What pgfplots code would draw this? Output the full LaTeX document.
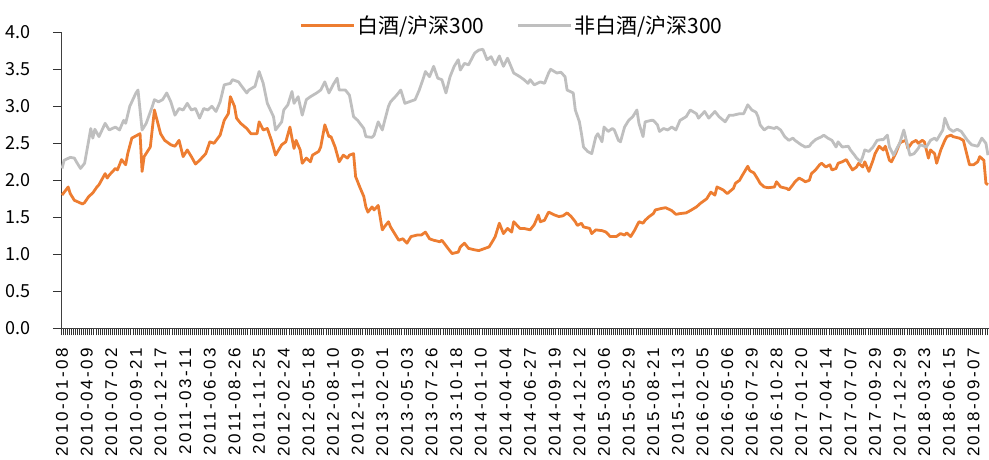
\documentclass[border=0pt]{standalone}
\usepackage{fontspec}
\setmainfont{Liberation Sans}
\newfontfamily\cjk{Noto Sans CJK SC}
\newfontfamily\xlab{Liberation Sans}[LetterSpace=14]
\usepackage{pgfplots}
\pgfplotsset{compat=1.18}
\definecolor{baijiu}{HTML}{ED7D31}
\definecolor{feibj}{HTML}{BFBFBF}
\begin{document}
\begin{tikzpicture}
\begin{axis}[
  anchor=south west,
  scale only axis, width=928bp, height=296bp,
  xmin=-0.5, xmax=451.5, ymin=0, ymax=4,
  axis x line*=bottom, axis y line*=left,
  axis line style={-, black!75, line width=0.8bp},
  ytick={0,0.5,...,4},
  yticklabel style={font=\cjk\fontsize{18bp}{20bp}\selectfont, anchor=east, inner sep=0pt},
  yticklabel shift=22bp,
  /pgf/number format/.cd, fixed, fixed zerofill, precision=1, assume math mode=true,
  /pgfplots/.cd,
  xtick={0,12,...,444},
  xticklabels={2010-01-08,2010-04-09,2010-07-02,2010-09-21,2010-12-17,2011-03-11,2011-06-03,2011-08-26,2011-11-25,2012-02-24,2012-05-18,2012-08-10,2012-11-09,2013-02-01,2013-05-03,2013-07-26,2013-10-18,2014-01-10,2014-04-04,2014-06-27,2014-09-19,2014-12-12,2015-03-06,2015-05-29,2015-08-21,2015-11-13,2016-02-05,2016-05-06,2016-07-29,2016-10-28,2017-01-20,2017-04-14,2017-07-07,2017-09-29,2017-12-29,2018-03-23,2018-06-15,2018-09-07},
  xticklabel style={font=\xlab\fontsize{17bp}{19bp}\selectfont, rotate=90, anchor=east, inner sep=0pt},
  xticklabel shift=12bp,
  minor xtick={-0.5,0.5,...,451.5},
  tick align=outside,
  major tick length=8bp, minor tick length=7bp,
  major x tick style={draw=none},
  tick style={black!80, line width=0.7bp},
  legend columns=2,
  legend style={at={(axis description cs:0.486,1.022)}, anchor=center, draw=none, fill=none,
    font=\cjk\fontsize{21bp}{24bp}\selectfont,
    /tikz/every even column/.append style={column sep=30bp}},
  legend image code/.code={\draw[#1] (0bp,0bp) -- (53bp,0bp);},
]
% 白酒/沪深300
\addplot[baijiu, line width=2.8bp, line join=round] coordinates {
(0,1.80)(3,1.91)(4,1.82)(6,1.73)(10,1.68)(11,1.70)(13,1.78)(15,1.83)(17,1.91)(18,1.94)
(21,2.09)(22,2.03)(23,2.07)(26,2.16)(27,2.14)(29,2.28)(31,2.21)(32,2.36)(34,2.57)(38,2.63)
(39,2.12)(40,2.32)(43,2.45)(45,2.95)(48,2.63)(50,2.54)(53,2.48)(55,2.46)(57,2.54)(59,2.32)
(61,2.41)(63,2.32)(65,2.22)(67,2.27)(70,2.36)(72,2.52)(74,2.50)(77,2.61)(79,2.81)(81,2.90)
(82,3.13)(84,3.00)(85,2.84)(87,2.77)(90,2.70)(92,2.63)(95,2.63)(96,2.79)(98,2.68)(100,2.70)
(102,2.54)(104,2.34)(107,2.48)(109,2.52)(111,2.72)(112,2.57)(113,2.43)(114,2.54)(116,2.41)(117,2.23)
(119,2.30)(121,2.25)(122,2.34)(125,2.39)(126,2.45)(128,2.75)(130,2.59)(131,2.59)(133,2.45)(135,2.25)
(137,2.34)(139,2.30)(140,2.34)(142,2.36)(143,2.05)(145,1.91)(147,1.78)(148,1.64)(149,1.57)(151,1.64)
(152,1.60)(154,1.66)(156,1.33)(157,1.37)(159,1.44)(160,1.37)(162,1.28)(164,1.19)(166,1.21)(168,1.15)
(170,1.24)(173,1.26)(175,1.26)(177,1.30)(179,1.21)(181,1.19)(184,1.17)(185,1.19)(188,1.08)(190,1.01)
(193,1.03)(194,1.10)(196,1.15)(198,1.08)(201,1.06)(203,1.05)(206,1.08)(208,1.10)(210,1.19)(211,1.24)
(213,1.42)(215,1.28)(217,1.35)(219,1.30)(220,1.44)(223,1.35)(225,1.35)(228,1.33)(230,1.40)(232,1.53)
(233,1.44)(235,1.46)(237,1.57)(240,1.53)(242,1.51)(244,1.52)(246,1.56)(248,1.51)(250,1.44)(251,1.39)
(253,1.42)(254,1.37)(257,1.35)(258,1.28)(260,1.33)(263,1.32)(265,1.30)(267,1.24)(270,1.24)(272,1.28)
(274,1.26)(275,1.29)(277,1.24)(279,1.33)(281,1.44)(283,1.42)(284,1.46)(286,1.51)(288,1.55)(289,1.60)
(292,1.62)(294,1.63)(297,1.59)(299,1.54)(301,1.55)(304,1.56)(306,1.59)(309,1.64)(311,1.69)(314,1.75)
(316,1.84)(318,1.80)(319,1.91)(322,1.87)(324,1.82)(327,1.89)(328,1.96)(330,2.00)(331,2.05)(334,2.19)
(335,2.13)(337,2.10)(339,2.01)(340,1.96)(342,1.91)(344,1.90)(347,1.91)(348,1.98)(350,1.91)(353,1.89)
(354,1.87)(356,1.94)(357,1.98)(359,2.03)(361,2.00)(362,1.98)(364,2.00)(365,2.09)(367,2.14)(369,2.21)
(370,2.23)(372,2.18)(374,2.21)(375,2.14)(377,2.16)(378,2.23)(380,2.25)(382,2.28)(383,2.23)(385,2.14)
(387,2.18)(388,2.23)(390,2.18)(391,2.25)(393,2.12)(395,2.27)(396,2.36)(398,2.46)(400,2.41)(401,2.46)
(403,2.27)(404,2.25)(406,2.36)(408,2.50)(409,2.52)(411,2.54)(412,2.43)(414,2.51)(416,2.54)(417,2.50)
(419,2.54)(420,2.52)(422,2.30)(423,2.41)(425,2.36)(426,2.23)(428,2.41)(430,2.54)(431,2.59)(433,2.61)
(434,2.59)(437,2.57)(439,2.54)(441,2.32)(442,2.21)(444,2.21)(446,2.25)(447,2.32)(449,2.27)(450,1.96)
(451,1.94)
};
\addlegendentry{白酒/沪深300}
% 非白酒/沪深300
\addplot[feibj, line width=2.8bp, line join=round] coordinates {
(0,2.16)(1,2.27)(4,2.31)(6,2.30)(7,2.25)(9,2.16)(11,2.23)(13,2.54)(14,2.70)(15,2.57)
(16,2.69)(18,2.59)(21,2.77)(23,2.68)(26,2.72)(28,2.68)(30,2.81)(31,2.77)(33,3.00)(36,3.18)
(37,3.22)(39,2.68)(41,2.77)(44,3.00)(45,3.09)(47,3.06)(49,3.09)(51,3.18)(53,3.06)(55,2.88)
(57,2.97)(59,2.95)(61,3.04)(63,2.95)(65,2.97)(67,2.84)(69,2.97)(71,2.95)(73,3.00)(75,2.93)
(77,3.06)(79,3.29)(82,3.31)(83,3.36)(86,3.33)(87,3.29)(90,3.18)(91,3.22)(94,3.27)(96,3.47)
(98,3.31)(100,3.04)(103,2.86)(104,2.68)(107,2.79)(108,2.95)(110,3.02)(112,3.20)(113,3.04)(115,3.13)
(117,2.88)(119,3.09)(121,3.13)(124,3.18)(126,3.22)(128,3.33)(130,3.18)(132,3.29)(134,3.38)(135,3.22)
(138,3.22)(140,3.15)(142,2.86)(144,2.81)(147,2.70)(148,2.59)(151,2.58)(152,2.61)(154,2.79)(156,2.68)
(157,2.79)(159,3.00)(160,3.06)(163,3.15)(165,3.22)(167,3.04)(169,3.06)(172,3.09)(174,3.22)(176,3.38)
(177,3.47)(179,3.40)(181,3.54)(183,3.38)(185,3.36)(187,3.18)(189,3.40)(191,3.54)(193,3.63)(194,3.49)
(196,3.58)(198,3.56)(201,3.72)(203,3.76)(205,3.77)(207,3.63)(209,3.67)(211,3.56)(213,3.68)(215,3.54)
(217,3.65)(220,3.45)(223,3.40)(225,3.36)(227,3.31)(228,3.36)(230,3.29)(233,3.33)(235,3.31)(237,3.45)
(238,3.50)(241,3.45)(243,3.46)(245,3.40)(246,3.22)(249,3.18)(250,2.95)(252,2.79)(253,2.63)(254,2.45)
(256,2.39)(258,2.36)(260,2.59)(261,2.63)(263,2.52)(264,2.72)(266,2.66)(268,2.70)(269,2.68)(271,2.54)
(272,2.52)(274,2.72)(276,2.81)(278,2.86)(280,2.95)(281,2.77)(283,2.59)(284,2.79)(287,2.81)(288,2.81)
(290,2.75)(291,2.66)(293,2.70)(295,2.68)(297,2.72)(299,2.68)(301,2.81)(304,2.86)(306,2.95)(309,2.90)
(310,2.84)(313,2.93)(315,2.84)(318,2.93)(320,2.86)(323,2.79)(325,2.88)(327,2.88)(330,2.90)(332,2.90)
(334,3.02)(336,2.95)(338,2.92)(339,2.86)(340,2.75)(342,2.68)(344,2.72)(347,2.70)(348,2.72)(350,2.68)
(352,2.59)(354,2.54)(356,2.57)(357,2.54)(360,2.48)(362,2.45)(364,2.46)(365,2.50)(367,2.55)(370,2.59)
(371,2.61)(373,2.57)(375,2.54)(377,2.45)(378,2.52)(380,2.45)(383,2.46)(384,2.41)(386,2.34)(387,2.30)
(389,2.25)(390,2.32)(391,2.41)(393,2.39)(395,2.45)(397,2.54)(399,2.55)(400,2.55)(402,2.61)(403,2.45)
(405,2.34)(407,2.45)(408,2.50)(410,2.68)(412,2.45)(413,2.34)(415,2.36)(417,2.43)(418,2.48)(420,2.46)
(421,2.45)(423,2.54)(425,2.57)(426,2.54)(429,2.68)(430,2.84)(432,2.70)(434,2.66)(436,2.69)(438,2.66)
(441,2.54)(443,2.48)(446,2.46)(448,2.57)(450,2.50)(451,2.34)
};
\addlegendentry{非白酒/沪深300}
\end{axis}
\pgfresetboundingbox
\path (-61bp,-131.7bp) rectangle (928bp,328.3bp);
\end{tikzpicture}
\end{document}
